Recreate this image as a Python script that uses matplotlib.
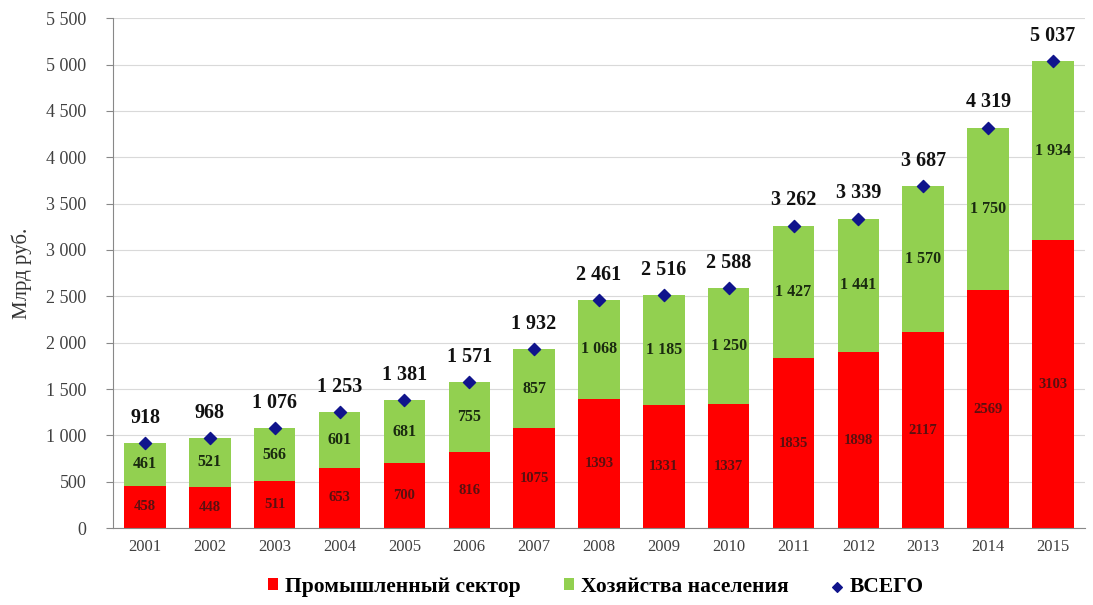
import matplotlib.pyplot as plt
from matplotlib.ticker import FuncFormatter
import numpy as np

plt.rcParams['font.family'] = ['Liberation Serif', 'DejaVu Serif']

# данные
годы = ['2001', '2002', '2003', '2004', '2005', '2006', '2007', '2008',
        '2009', '2010', '2011', '2012', '2013', '2014', '2015']
промышленный = [458, 448, 511, 653, 700, 816, 1075, 1393, 1331, 1337, 1835, 1898, 2117, 2569, 3103]
хозяйства = [461, 521, 566, 601, 681, 755, 857, 1068, 1185, 1250, 1427, 1441, 1570, 1750, 1934]
всего = [918, 968, 1076, 1253, 1381, 1571, 1932, 2461, 2516, 2588, 3262, 3339, 3687, 4319, 5037]


def fmt(v):
    return f'{int(v):,}'.replace(',', ' ')


fig = plt.figure(figsize=(10.93, 6.05), dpi=100)
ax = fig.add_axes([0.103, 0.127, 0.89, 0.843])

x = np.arange(len(годы))
красный = '#FF0000'
зелёный = '#92D050'

b1 = ax.bar(x, промышленный, width=0.64, color=красный, label='Промышленный сектор', zorder=2)
b2 = ax.bar(x, хозяйства, width=0.64, bottom=промышленный, color=зелёный,
            label='Хозяйства населения', zorder=2)
ax.scatter(x, всего, marker='D', s=38, color='#10148C', zorder=3, label='ВСЕГО')

for i in range(len(годы)):
    ax.text(x[i], промышленный[i] / 2, str(промышленный[i]), ha='center', va='center',
            fontsize=10.5, fontweight='bold', color='#5A1010', zorder=4)
    ax.text(x[i], промышленный[i] + хозяйства[i] / 2, fmt(хозяйства[i]), ha='center',
            va='center', fontsize=11.5, fontweight='bold', color='#1A2A10', zorder=4)
    ax.annotate(fmt(всего[i]), (x[i], всего[i]), xytext=(0, 11), textcoords='offset points',
                ha='center', va='bottom', fontsize=14.5, fontweight='bold', color='#111111')

ax.set_xlim(-0.5, 14.5)
ax.set_ylim(0, 5500)
ax.set_yticks(np.arange(0, 5501, 500))
ax.yaxis.set_major_formatter(FuncFormatter(lambda v, p: fmt(v)))
ax.set_xticks(x)
ax.set_xticklabels(годы)
ax.tick_params(axis='both', colors='#404040', color='#888888')
ax.tick_params(axis='y', labelsize=13, length=5, pad=14)
ax.tick_params(axis='x', labelsize=12, length=0, pad=8)
ax.grid(axis='y', color='#D9D9D9', linewidth=0.8, zorder=0)
ax.set_axisbelow(True)
for s in ['top', 'right']:
    ax.spines[s].set_visible(False)
ax.spines['left'].set_color('#888888')
ax.spines['bottom'].set_color('#888888')

ax.set_ylabel('Млрд руб.', fontsize=15, color='#333333', labelpad=10)

leg = fig.legend(handles=[b1, b2, ax.collections[0]], loc='lower center',
                 bbox_to_anchor=(0.545, -0.018), ncol=3, frameon=False,
                 prop={'weight': 'bold', 'size': 15.5}, handlelength=0.45,
                 handleheight=0.45, handletextpad=0.35, columnspacing=2.0,
                 markerscale=0.8)

fig.savefig('out.png', dpi=100)
